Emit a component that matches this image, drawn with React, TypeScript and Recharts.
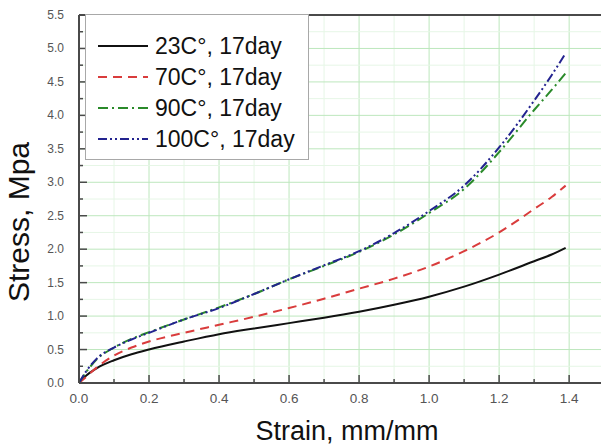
import React from "react"
import { LineChart, Line, XAxis, YAxis, ReferenceLine, Label } from "recharts"

const FONT = "'Liberation Sans', Arial, Helvetica, sans-serif"
const AXIS = "#4a4a4a"
const GRID_MAJOR = "#bde7bd"
const GRID_MINOR = "#e6f6e6"

// strain, mm/mm
const STRAIN = [0, 0.02, 0.05, 0.1, 0.15, 0.2, 0.3, 0.4, 0.5, 0.6, 0.7, 0.8, 0.9, 1.0, 1.1, 1.2, 1.3, 1.35, 1.39]

// stress, Mpa
const STRESS_23 = [0, 0.11, 0.22, 0.34, 0.43, 0.5, 0.62, 0.73, 0.815, 0.895, 0.975, 1.065, 1.17, 1.29, 1.44, 1.62, 1.82, 1.92, 2.02]
const STRESS_70 = [0, 0.09, 0.23, 0.41, 0.53, 0.62, 0.75, 0.87, 0.99, 1.12, 1.26, 1.41, 1.56, 1.74, 1.97, 2.25, 2.6, 2.78, 2.95]
const STRESS_90 = [0, 0.16, 0.35, 0.53, 0.66, 0.76, 0.95, 1.13, 1.33, 1.55, 1.75, 1.96, 2.22, 2.54, 2.9, 3.45, 4.08, 4.38, 4.63]
const STRESS_100 = [0, 0.17, 0.36, 0.53, 0.65, 0.75, 0.95, 1.12, 1.33, 1.55, 1.76, 1.97, 2.24, 2.57, 2.95, 3.52, 4.22, 4.6, 4.93]

const X_TICKS = [0, 0.1, 0.2, 0.3, 0.4, 0.5, 0.6, 0.7, 0.8, 0.9, 1.0, 1.1, 1.2, 1.3, 1.4]
const Y_TICKS = [0, 0.25, 0.5, 0.75, 1, 1.25, 1.5, 1.75, 2, 2.25, 2.5, 2.75, 3, 3.25, 3.5, 3.75, 4, 4.25, 4.5, 4.75, 5, 5.25, 5.5]

const SERIES = [
  { key: "t23", name: "23C°, 17day", color: "#111111", dash: undefined },
  { key: "t70", name: "70C°, 17day", color: "#d93c3c", dash: "9 6" },
  { key: "t90", name: "90C°, 17day", color: "#2a8a2a", dash: "10 4 2 4" },
  { key: "t100", name: "100C°, 17day", color: "#23238f", dash: "9 3 2 3 2 3" },
]

const data = STRAIN.map((s, i) => ({
  strain: s,
  t23: STRESS_23[i],
  t70: STRESS_70[i],
  t90: STRESS_90[i],
  t100: STRESS_100[i],
}))

const isMajorX = (v: number) => Math.round(v * 10) % 2 === 0
const isMajorY = (v: number) => Math.round(v * 4) % 2 === 0

function XTick(props: any) {
  const { x, y, payload } = props
  const major = isMajorX(payload.value)
  return (
    <g>
      <line x1={x} x2={x} y1={y} y2={y - (major ? 8 : 4)} stroke={AXIS} strokeWidth={1.5} />
      {major ? (
        <text x={x} y={y + 20} textAnchor="middle" fontSize={13.5} fill="#555" fontFamily={FONT}>
          {payload.value.toFixed(1)}
        </text>
      ) : null}
    </g>
  )
}

function YTick(props: any) {
  const { x, y, payload } = props
  const major = isMajorY(payload.value)
  return (
    <g>
      <line x1={x} x2={x + (major ? 8 : 4)} y1={y} y2={y} stroke={AXIS} strokeWidth={1.5} />
      {major ? (
        <text x={x - 15} y={y + 4} textAnchor="end" fontSize={12} fill="#555" fontFamily={FONT}>
          {payload.value.toFixed(1)}
        </text>
      ) : null}
    </g>
  )
}

function ChartLegend() {
  return (
    <div
      style={{
        position: "absolute",
        left: 85,
        top: 14,
        width: 224,
        height: 146,
        border: "1px solid #a8a8a8",
        background: "#fff",
        boxSizing: "border-box",
        fontFamily: FONT,
      }}
    >
      {SERIES.map((s, i) => (
        <div
          key={s.key}
          style={{ position: "absolute", left: 0, top: 16 + i * 31, height: 30, display: "flex", alignItems: "center" }}
        >
          <svg width={66} height={30} style={{ display: "block" }}>
            <line x1={12} x2={62} y1={15} y2={15} stroke={s.color} strokeWidth={2} strokeDasharray={s.dash} />
          </svg>
          <span style={{ fontSize: 23, color: "#111", marginLeft: 3, whiteSpace: "nowrap" }}>{s.name}</span>
        </div>
      ))}
    </div>
  )
}

export default function App() {
  return (
    <div style={{ position: "absolute", left: 0, top: 0, width: 602, height: 445, background: "#fff" }}>
      <LineChart width={602} height={445} data={data} margin={{ top: 15, right: 1, left: 0, bottom: 0 }}>
        <XAxis
          dataKey="strain"
          type="number"
          domain={[0, 1.491]}
          ticks={X_TICKS}
          interval={0}
          allowDataOverflow
          height={62}
          tickSize={0}
          tickMargin={0}
          tick={<XTick />}
          stroke={AXIS}
          strokeWidth={2}
        >
          <Label
            content={(p: any) => {
              const vb = p.viewBox
              return (
                <text x={vb.x + vb.width / 2 + 7} y={440} textAnchor="middle" fontSize={27} fill="#111" fontFamily={FONT}>
                  Strain, mm/mm
                </text>
              )
            }}
          />
        </XAxis>
        <YAxis
          type="number"
          domain={[0, 5.5]}
          ticks={Y_TICKS}
          interval={0}
          allowDataOverflow
          width={79}
          tickSize={0}
          tickMargin={0}
          tick={<YTick />}
          stroke={AXIS}
          strokeWidth={2}
        >
          <Label
            content={(p: any) => {
              const vb = p.viewBox
              const cy = vb.y + vb.height / 2 + 23
              return (
                <text
                  x={29}
                  y={cy}
                  transform={`rotate(-90, 29, ${cy})`}
                  textAnchor="middle"
                  fontSize={30}
                  fill="#111"
                  fontFamily={FONT}
                >
                  Stress, Mpa
                </text>
              )
            }}
          />
        </YAxis>
        {X_TICKS.filter((v) => v > 0).map((v) => (
          <ReferenceLine key={"gx" + v} x={v} stroke={isMajorX(v) ? GRID_MAJOR : GRID_MINOR} strokeWidth={1} />
        ))}
        {Y_TICKS.filter((v) => v > 0 && v < 5.5).map((v) => (
          <ReferenceLine key={"gy" + v} y={v} stroke={isMajorY(v) ? GRID_MAJOR : GRID_MINOR} strokeWidth={1} />
        ))}
        <ReferenceLine y={5.5} stroke={AXIS} strokeWidth={2} />
        {SERIES.map((s) => (
          <Line
            key={s.key}
            type="monotone"
            dataKey={s.key}
            stroke={s.color}
            strokeWidth={2}
            strokeDasharray={s.dash}
            dot={false}
            activeDot={false}
            isAnimationActive={false}
          />
        ))}
      </LineChart>
      <ChartLegend />
    </div>
  )
}
